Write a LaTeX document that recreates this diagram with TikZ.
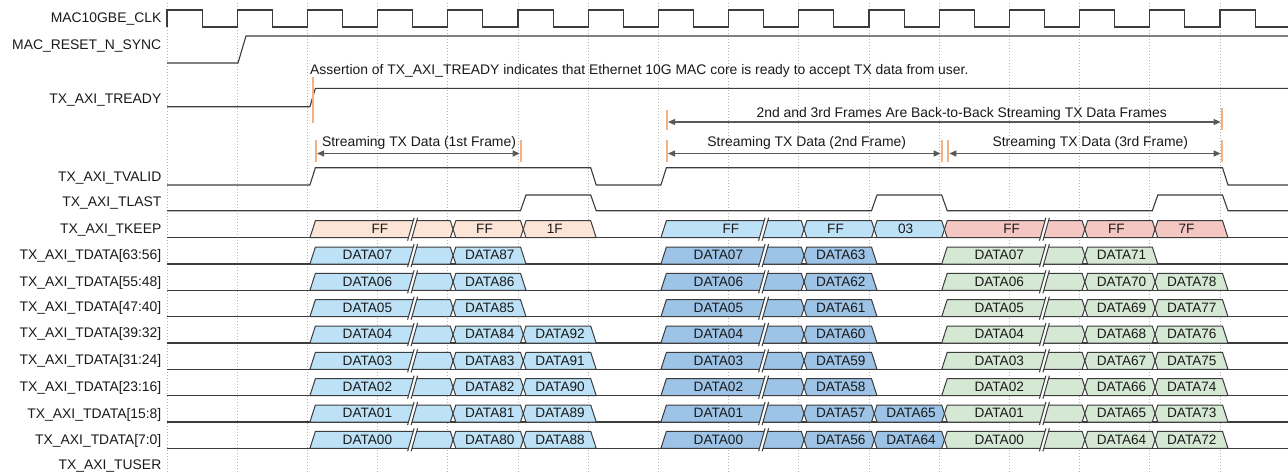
\documentclass[tikz,border=0pt]{standalone}
\usepackage{fontspec}
\setmainfont{Liberation Sans}
\usetikzlibrary{arrows.meta}
\definecolor{sig}{HTML}{3C3C3C}
\definecolor{txt}{HTML}{1A1A1A}
\definecolor{gridc}{HTML}{B4B4B4}
\definecolor{peach}{HTML}{FCE4D6}
\definecolor{lblue}{HTML}{BDE2F7}
\definecolor{mblue}{HTML}{9DC3E6}
\definecolor{pinkc}{HTML}{F4C7C3}
\definecolor{lgreen}{HTML}{D5E8D4}
\definecolor{orng}{HTML}{F4B183}
\tikzset{
 sigline/.style={draw=sig,line width=1.1pt},
 busbox/.style={draw=sig,line width=1pt,line join=round},
 gridline/.style={draw=gridc,line width=0.7pt,dash pattern=on 1pt off 2pt},
 lbl/.style={font=\fontsize{13.9pt}{16pt}\selectfont,inner sep=0pt,text=txt,anchor=base},
 blbl/.style={font=\fontsize{13.6pt}{16pt}\selectfont,inner sep=0pt,text=txt,anchor=base},
 orngbar/.style={draw=orng,line width=2pt},
 framespan/.style={draw=sig!85!white,line width=1.1pt,{Triangle[length=7pt,width=6pt]}-{Triangle[length=7pt,width=6pt]}},
}
\newcommand\Edge[1]{(167+70.2*(#1))}
% #1 fill, #2 start edge, #3 start type s/x, #4 end edge, #5 end type s/x, #6 row, #7 text, #8 text offset, #9 name
\newcommand\bseg[9]{%
 \pgfmathsetmacro\ya{220.7+26.33*#6}%
 \pgfmathsetmacro\yb{\ya+17}%
 \pgfmathsetmacro\ym{\ya+8.5}%
 \pgfmathsetmacro\yt{\ym+4.4}%
 \pgfmathsetmacro\xa{167+70.2*#2+2.5}%
 \pgfmathsetmacro\xb{\xa+5.5}%
 \pgfmathsetmacro\xam{\xa+2.75}%
 \pgfmathsetmacro\xc{167+70.2*#4+2.5}%
 \pgfmathsetmacro\xd{\xc+5.5}%
 \pgfmathsetmacro\xcm{\xc+2.75}%
 \pgfmathsetmacro\xt{167+70.2*#2+#8}%
 \if#3s\edef\Pa{(\xa,\yb) -- (\xb,\ya)}\edef\Pc{(\xa,\yb)}\else\edef\Pa{(\xam,\ym) -- (\xb,\ya)}\edef\Pc{(\xb,\yb)}\fi
 \if#5s\edef\Pb{(\xd,\yb)}\else\edef\Pb{(\xcm,\ym) -- (\xc,\yb)}\fi
 \edef\fullpath{\noexpand\filldraw[busbox,fill=#1] \Pa -- (\xc,\ya) -- \Pb -- \Pc -- cycle;}%
 \fullpath
 \node[blbl] (#9) at (\xt,\yt) {#7};
}
\newcommand\bbreak[2]{%
 \pgfmathsetmacro\ya{220.7+26.33*#2}%
 \pgfmathsetmacro\yb{\ya+17}%
 \pgfmathsetmacro\xk{167+70.2*#1+35}%
 \fill[white] (\xk-5,\yb+3) -- (\xk+1.5,\ya-3) -- (\xk+5,\ya-3) -- (\xk-1.5,\yb+3) -- cycle;
 \draw[busbox] (\xk-5,\yb+3) -- (\xk+1.5,\ya-3) (\xk-1.5,\yb+3) -- (\xk+5,\ya-3);
}
\begin{document}
\begin{tikzpicture}[x=1pt,y=-1pt]
\useasboundingbox (0,0) rectangle (1288,474);
\fill[white] (0,0) rectangle (1288,474);
% grid
\foreach \k in {0,...,15}{\draw[gridline] ({\Edge{\k}},3) -- ({\Edge{\k}},474);}
% labels
\node[lbl,anchor=base east] (lclk) at (161.5,22.4) {MAC10GBE\_CLK};
\node[lbl,anchor=base east] (lrst) at (161.5,49.2) {MAC\_RESET\_N\_SYNC};
\node[lbl,anchor=base east] (lrdy) at (161.5,103.2) {TX\_AXI\_TREADY};
\node[lbl,anchor=base east] (lvld) at (161.5,181.6) {TX\_AXI\_TVALID};
\node[lbl,anchor=base east] (llst) at (161.5,206.9) {TX\_AXI\_TLAST};
\node[lbl,anchor=base east] (lkeep) at (161.5,233.2) {TX\_AXI\_TKEEP};
\node[lbl,anchor=base east] (ld1) at (161.5,259.9) {TX\_AXI\_TDATA[63:56]};
\node[lbl,anchor=base east] (ld2) at (161.5,286.6) {TX\_AXI\_TDATA[55:48]};
\node[lbl,anchor=base east] (ld3) at (161.5,311.6) {TX\_AXI\_TDATA[47:40]};
\node[lbl,anchor=base east] (ld4) at (161.5,337.6) {TX\_AXI\_TDATA[39:32]};
\node[lbl,anchor=base east] (ld5) at (161.5,364.9) {TX\_AXI\_TDATA[31:24]};
\node[lbl,anchor=base east] (ld6) at (161.5,391.6) {TX\_AXI\_TDATA[23:16]};
\node[lbl,anchor=base east] (ld7) at (161.5,418.2) {TX\_AXI\_TDATA[15:8]};
\node[lbl,anchor=base east] (ld8) at (161.5,444.2) {TX\_AXI\_TDATA[7:0]};
\node[lbl,anchor=base east] (lusr) at (161.5,469.9) {TX\_AXI\_TUSER};
% clock
\draw[sigline] (167,27) \foreach \k in {0,...,15}{ -- ({\Edge{\k}},27) -- ({\Edge{\k}},10) -- ({\Edge{\k}+35.1},10) -- ({\Edge{\k}+35.1},27)} -- (1288,27);
% reset
\draw[sigline] (167,63) -- (238,63) -- (246,36) -- (1288,36);
% tready
\draw[sigline] (167,106.7) -- ({\Edge{2}+2.5},106.7) -- ({\Edge{2}+8},88.3) -- (1288,88.3);
% tvalid
\draw[sigline] (167,185) -- ({\Edge{2}+2.5},185) -- ({\Edge{2}+8},167.7) -- ({\Edge{6}+2.5},167.7) -- ({\Edge{6}+8},185) -- ({\Edge{7}+2.5},185) -- ({\Edge{7}+8},167.7) -- ({\Edge{15}+2.5},167.7) -- ({\Edge{15}+8},185) -- (1288,185);
% tlast
\draw[sigline] (167,210.7) -- ({\Edge{5}+2.5},210.7) -- ({\Edge{5}+8},195) -- ({\Edge{6}+2.5},195) -- ({\Edge{6}+8},210.7) -- ({\Edge{10}+2.5},210.7) -- ({\Edge{10}+8},195) -- ({\Edge{11}+2.5},195) -- ({\Edge{11}+8},210.7) -- ({\Edge{14}+2.5},210.7) -- ({\Edge{14}+8},195) -- ({\Edge{15}+2.5},195) -- ({\Edge{15}+8},210.7) -- (1288,210.7);
% bus baselines
\foreach \i in {0,...,8}{\draw[sigline] (167,{237.7+26.33*\i}) -- (1288,{237.7+26.33*\i});}
% tkeep
\bseg{peach}{2}{s}{4}{x}{0}{FF}{72.5}{k1a}
\bbreak{3}{0}
\bseg{peach}{4}{x}{5}{x}{0}{FF}{36.7}{k1b}
\bseg{peach}{5}{x}{6}{s}{0}{1F}{36.7}{k1c}
\bseg{lblue}{7}{s}{9}{x}{0}{FF}{72.5}{k2a}
\bbreak{8}{0}
\bseg{lblue}{9}{x}{10}{x}{0}{FF}{36.7}{k2b}
\bseg{lblue}{10}{x}{11}{x}{0}{03}{36.7}{k2c}
\bseg{pinkc}{11}{x}{13}{x}{0}{FF}{72.5}{k3a}
\bbreak{12}{0}
\bseg{pinkc}{13}{x}{14}{x}{0}{FF}{36.7}{k3b}
\bseg{pinkc}{14}{x}{15}{s}{0}{7F}{36.7}{k3c}
% tdata
\foreach \rw in {1,...,8}{
  \pgfmathtruncatemacro\lane{8-\rw}
  \pgfmathtruncatemacro\dA{88-\rw}
  \pgfmathtruncatemacro\dB{96-\rw}
  \pgfmathtruncatemacro\dC{64-\rw}
  \pgfmathtruncatemacro\dD{72-\rw}
  \pgfmathtruncatemacro\dE{80-\rw}
  \ifnum\rw<4 \def\ta{s}\else\def\ta{x}\fi
  \ifnum\rw<7 \def\tb{s}\else\def\tb{x}\fi
  \ifnum\rw<2 \def\tc{s}\else\def\tc{x}\fi
  \bseg{lblue}{2}{s}{4}{x}{\rw}{DATA0\lane}{60}{d\rw a}
  \bbreak{3}{\rw}
  \bseg{lblue}{4}{x}{5}{\ta}{\rw}{DATA\dA}{42}{d\rw b}
  \ifnum\rw>3 \bseg{lblue}{5}{x}{6}{s}{\rw}{DATA\dB}{42}{d\rw c}\fi
  \bseg{mblue}{7}{s}{9}{x}{\rw}{DATA0\lane}{60}{d\rw d}
  \bbreak{8}{\rw}
  \bseg{mblue}{9}{x}{10}{\tb}{\rw}{DATA\dC}{42}{d\rw e}
  \ifnum\rw>6 \bseg{mblue}{10}{x}{11}{x}{\rw}{DATA\dD}{42}{d\rw f}\fi
  \bseg{lgreen}{11}{\tb}{13}{x}{\rw}{DATA0\lane}{60}{d\rw g}
  \bbreak{12}{\rw}
  \bseg{lgreen}{13}{x}{14}{\tc}{\rw}{DATA\dD}{42}{d\rw h}
  \ifnum\rw>1 \bseg{lgreen}{14}{x}{15}{s}{\rw}{DATA\dE}{42}{d\rw i}\fi
}
% markers and annotations
\draw[orngbar] (312.7,77) -- (312.7,123);
\node[lbl,anchor=base west] (assert) at (310,74.4) {Assertion of TX\_AXI\_TREADY indicates that Ethernet 10G MAC core is ready to accept TX data from user.};
% top span
\draw[orngbar] (667,110) -- (667,130);
\draw[orngbar] (1221.7,108) -- (1221.7,130);
\coordinate (ta) at (668,122);
\coordinate (tb) at (1220.7,122);
\draw[framespan] (ta) -- (tb);
\node[lbl] (ttop) at (961.7,117.9) {2nd and 3rd Frames Are Back-to-Back Streaming TX Data Frames};
% frame 1
\draw[orngbar] (316,140) -- (316,162);
\draw[orngbar] (520.7,140) -- (520.7,162);
\coordinate (f1a) at (317,153.5);
\coordinate (f1b) at (519.7,153.5);
\draw[framespan] (f1a) -- (f1b);
\node[lbl] (tf1) at (419,146.9) {Streaming TX Data (1st Frame)};
% frame 2
\draw[orngbar] (667,140) -- (667,162);
\draw[orngbar] (941.7,140) -- (941.7,162);
\coordinate (f2a) at (668,153.5);
\coordinate (f2b) at (940.7,153.5);
\draw[framespan] (f2a) -- (f2b);
\node[lbl] (tf2) at (806.7,146.9) {Streaming TX Data (2nd Frame)};
% frame 3
\draw[orngbar] (948.3,140) -- (948.3,162);
\draw[orngbar] (1221.7,140) -- (1221.7,162);
\coordinate (f3a) at (949.3,153.5);
\coordinate (f3b) at (1220.7,153.5);
\draw[framespan] (f3a) -- (f3b);
\node[lbl] (tf3) at (1090.3,146.9) {Streaming TX Data (3rd Frame)};
\end{tikzpicture}
\end{document}
